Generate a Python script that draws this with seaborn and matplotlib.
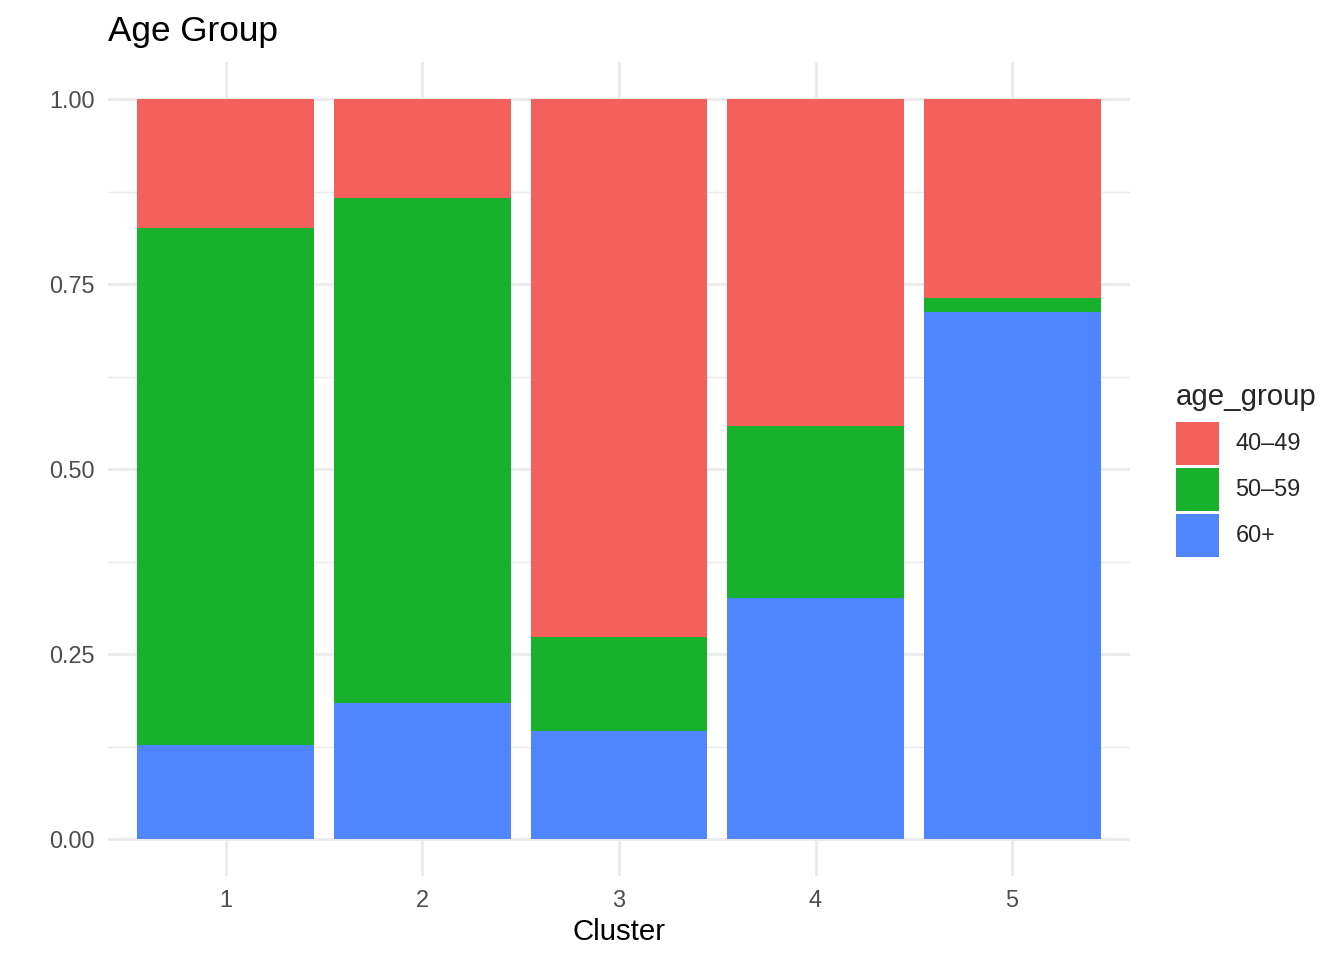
import matplotlib
matplotlib.use("Agg")
import matplotlib.pyplot as plt
from matplotlib.patches import Patch
from matplotlib.ticker import MultipleLocator
import seaborn as sns
import pandas as pd

clusters = [1, 2, 3, 4, 5]
age_groups = ["40–49", "50–59", "60+"]
prop_40_49 = [0.174, 0.134, 0.727, 0.442, 0.269]
prop_50_59 = [0.699, 0.682, 0.127, 0.232, 0.019]
prop_60p = [0.127, 0.184, 0.146, 0.326, 0.712]
colors = ["#F4605B", "#18B12D", "#4F86FF"]
ytick_vals = [0.00, 0.25, 0.50, 0.75, 1.00]
ytick_labels = ["0.00", "0.25", "0.50", "0.75", "1.00"]

rows = []
for grp, vals in zip(age_groups, [prop_40_49, prop_50_59, prop_60p]):
    for c, v in zip(clusters, vals):
        rows.append({"cluster": c, "age_group": grp, "prop": v})
df = pd.DataFrame(rows)

sns.set_theme(style="white")
plt.rcParams["font.family"] = ["Liberation Sans", "DejaVu Sans"]

fig = plt.figure(figsize=(7, 5), dpi=192)
ax = fig.add_axes([108 / 1344, 1 - 876 / 960, (1130 - 108) / 1344, (876 - 62) / 960])

grid_c = "#EBEBEB"
ax.set_axisbelow(True)

sns.histplot(
    data=df, x="cluster", weights="prop", hue="age_group", hue_order=age_groups,
    multiple="stack", discrete=True, shrink=0.9, palette=colors, alpha=1,
    edgecolor="none", linewidth=0, legend=False, ax=ax,
)

ax.set_xlim(0.4, 5.6)
ax.set_ylim(-0.05, 1.05)
ax.set_xticks(clusters)
ax.set_xticklabels([str(c) for c in clusters])
ax.set_yticks(ytick_vals)
ax.set_yticklabels(ytick_labels)
ax.yaxis.set_minor_locator(MultipleLocator(0.125))
ax.grid(True, which="major", color=grid_c, linewidth=1.07)
ax.grid(True, which="minor", axis="y", color=grid_c, linewidth=0.53)
for s in ax.spines.values():
    s.set_visible(False)
ax.tick_params(axis="both", which="both", length=0, labelsize=8.8, labelcolor="#4D4D4D")
ax.tick_params(axis="x", pad=5)
ax.tick_params(axis="y", pad=5)
ax.set_xlabel("Cluster", fontsize=11, color="black", labelpad=2)
ax.set_ylabel("")
ax.set_title("Age Group", loc="left", fontsize=13.2, color="black", pad=8)

handles = [Patch(facecolor=c, edgecolor="none") for c in colors]
leg = fig.legend(
    handles, age_groups, title="age_group", loc="upper left",
    bbox_to_anchor=(1176 / 1344, 1 - 383 / 960), frameon=False,
    fontsize=8.8, title_fontsize=11, handlelength=1.83, handleheight=2.44,
    labelspacing=0.13, handletextpad=0.7, borderaxespad=0, borderpad=0,
)
leg._legend_box.align = "left"
leg._legend_box.sep = 4.0

fig.savefig("out.png", dpi=192, facecolor="white")
